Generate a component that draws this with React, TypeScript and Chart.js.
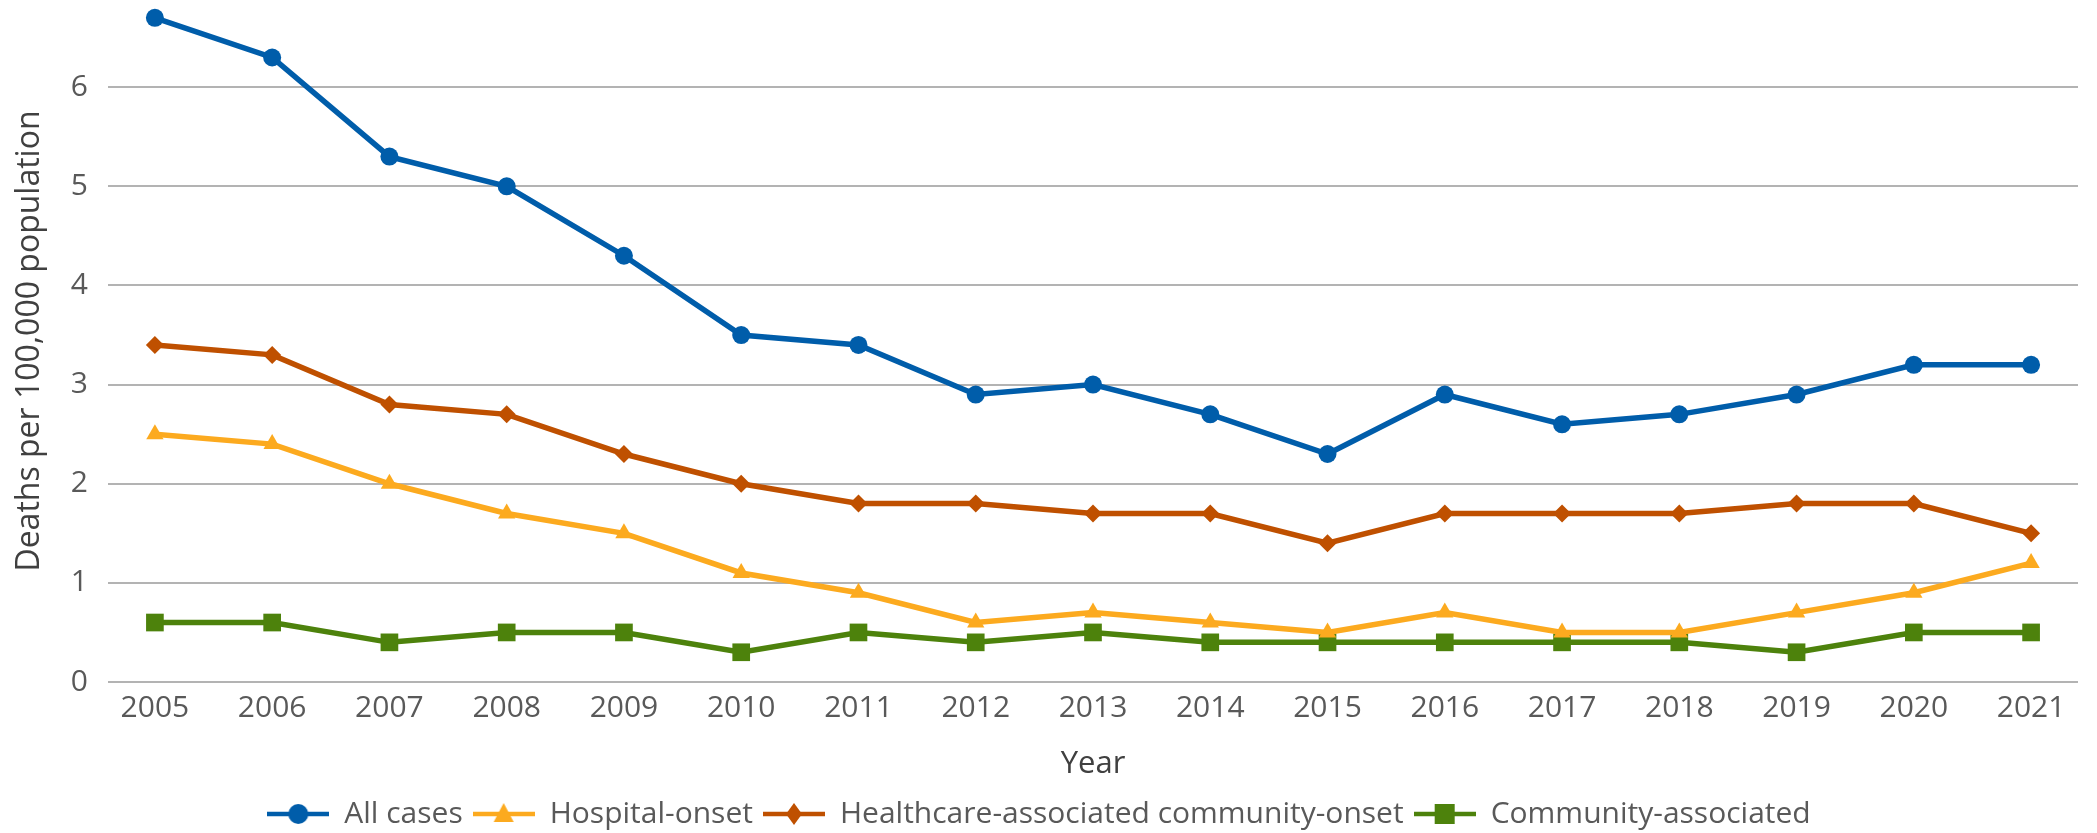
import React, { useEffect, useRef } from "react";
import { Chart, registerables } from "chart.js";

Chart.register(...registerables);

const years = [2005, 2006, 2007, 2008, 2009, 2010, 2011, 2012, 2013, 2014, 2015, 2016, 2017, 2018, 2019, 2020, 2021];
const allCases = [6.7, 6.3, 5.3, 5.0, 4.3, 3.5, 3.4, 2.9, 3.0, 2.7, 2.3, 2.9, 2.6, 2.7, 2.9, 3.2, 3.2];
const hospitalOnset = [2.5, 2.4, 2.0, 1.7, 1.5, 1.1, 0.9, 0.6, 0.7, 0.6, 0.5, 0.7, 0.5, 0.5, 0.7, 0.9, 1.2];
const healthcareCommunityOnset = [3.4, 3.3, 2.8, 2.7, 2.3, 2.0, 1.8, 1.8, 1.7, 1.7, 1.4, 1.7, 1.7, 1.7, 1.8, 1.8, 1.5];
const communityAssociated = [0.6, 0.6, 0.4, 0.5, 0.5, 0.3, 0.5, 0.4, 0.5, 0.4, 0.4, 0.4, 0.4, 0.4, 0.3, 0.5, 0.5];
const seriesNames = ["All cases", "Hospital-onset", "Healthcare-associated community-onset", "Community-associated"];
const yTickValues = [0, 1, 2, 3, 4, 5, 6];

const COLORS = ["#005DAA", "#FCAA1F", "#BF5000", "#4D820C"];
const STYLES = ["circle", "triangle", "rectRot", "rect"];
const RADII = [9, 10, 9, 12.5];
const FONT = "'Open Sans', 'Noto Sans', sans-serif";
const TEXT = "#595959";

function makeLegendIcon(color: string, style: string) {
  const c = document.createElement("canvas");
  const w = 62, h = 24;
  c.width = w;
  c.height = h;
  const ctx = c.getContext("2d")!;
  const cx = w / 2, cy = h / 2;
  ctx.strokeStyle = color;
  ctx.lineWidth = 4.5;
  ctx.beginPath();
  ctx.moveTo(0, cy);
  ctx.lineTo(w, cy);
  ctx.stroke();
  ctx.fillStyle = color;
  ctx.beginPath();
  if (style === "circle") {
    ctx.arc(cx, cy, 10, 0, Math.PI * 2);
  } else if (style === "triangle") {
    ctx.moveTo(cx, cy - 11);
    ctx.lineTo(cx + 10, cy + 8);
    ctx.lineTo(cx - 10, cy + 8);
    ctx.closePath();
  } else if (style === "rectRot") {
    ctx.moveTo(cx, cy - 11);
    ctx.lineTo(cx + 8, cy);
    ctx.lineTo(cx, cy + 11);
    ctx.lineTo(cx - 8, cy);
    ctx.closePath();
  } else {
    ctx.rect(cx - 10, cy - 10, 20, 20);
  }
  ctx.fill();
  return c;
}

export default function App() {
  const ref = useRef<HTMLCanvasElement | null>(null);

  useEffect(() => {
    document.body.style.margin = "0";
    if (!ref.current) return;
    const seriesData = [allCases, hospitalOnset, healthcareCommunityOnset, communityAssociated];
    const icons = COLORS.map((c, i) => makeLegendIcon(c, STYLES[i]));
    const chart = new Chart(ref.current, {
      type: "line",
      data: {
        datasets: seriesData.map((vals, i) => ({
          label: seriesNames[i],
          data: vals.map((v, j) => ({ x: years[j], y: v })),
          borderColor: COLORS[i],
          backgroundColor: COLORS[i],
          borderWidth: 5.5,
          pointStyle: STYLES[i] as any,
          pointRadius: RADII[i],
          pointBorderWidth: 0,
          pointBackgroundColor: COLORS[i],
          tension: 0,
          clip: false as any,
        })),
      },
      options: {
        animation: false,
        responsive: false,
        maintainAspectRatio: false,
        layout: { autoPadding: false, padding: { top: 0, right: 19, bottom: -6, left: 0 } },
        scales: {
          x: {
            type: "linear",
            min: 2004.6,
            max: 2021.4,
            grid: { display: false, drawTicks: false },
            border: { display: false },
            afterBuildTicks: (scale: any) => {
              scale.ticks = years.map((y) => ({ value: y }));
            },
            afterFit: (scale: any) => {
              scale.height = 107;
              scale.paddingLeft = 0;
              scale.paddingRight = 0;
            },
            ticks: {
              autoSkip: false,
              maxRotation: 0,
              padding: 8.5,
              color: TEXT,
              font: { family: FONT, size: 30 },
              callback: (v: any) => String(v),
            },
            title: {
              display: true,
              text: "Year",
              color: "#404040",
              font: { family: FONT, size: 31 },
              padding: { top: 2, bottom: 6.5 },
            },
          },
          y: {
            type: "linear",
            min: 0,
            max: 6.88,
            grid: { color: "#B3B3B3", lineWidth: 2, drawTicks: false },
            border: { display: false },
            afterBuildTicks: (scale: any) => {
              scale.ticks = yTickValues.map((v) => ({ value: v }));
            },
            afterFit: (scale: any) => {
              scale.width = 108;
              scale.paddingTop = 0;
              scale.paddingBottom = 0;
            },
            ticks: {
              padding: 20,
              color: TEXT,
              font: { family: FONT, size: 30 },
              callback: (v: any) => String(v),
            },
            title: {
              display: true,
              text: "Deaths per 100,000 population",
              color: "#404040",
              font: { family: FONT, size: 32 },
              padding: { top: 11, bottom: 0 },
            },
          },
        },
        plugins: {
          tooltip: { enabled: false },
          legend: {
            position: "bottom",
            labels: {
              usePointStyle: true,
              pointStyleWidth: 62,
              boxHeight: 24,
              padding: 10,
              color: TEXT,
              font: { family: FONT, size: 30 },
              generateLabels: (chart: any) => {
                const items = Chart.defaults.plugins.legend.labels.generateLabels(chart);
                return items.map((it: any, i: number) => ({ ...it, pointStyle: icons[i] }));
              },
            },
          },
        },
      },
    });
    return () => chart.destroy();
  }, []);

  return (
    <div style={{ width: 2097, height: 833, background: "#fff" }}>
      <canvas ref={ref} width={2097} height={833} style={{ width: 2097, height: 833, display: "block" }} />
    </div>
  );
}
